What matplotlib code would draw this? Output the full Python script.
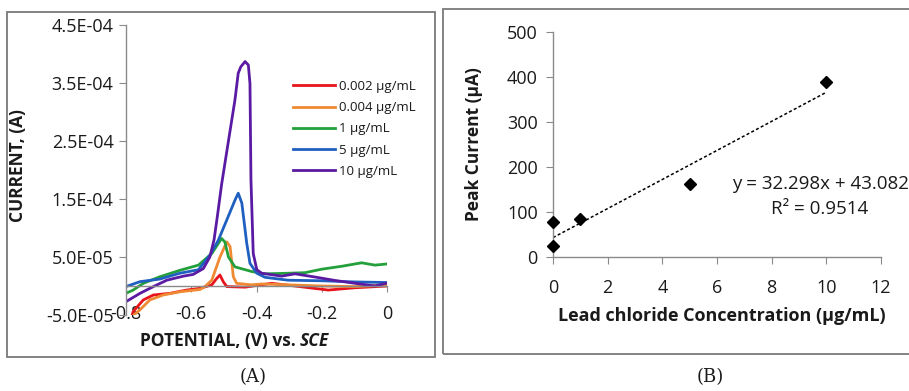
import matplotlib
matplotlib.use("Agg")
import matplotlib.pyplot as plt
import numpy as np
from matplotlib.patches import Rectangle

# ---------------- Panel A data (potential in V, current in µA) ----------------
v_red = [-0.785, -0.778, -0.747, -0.716, -0.665, -0.614, -0.573, -0.537, -0.522, -0.512,
         -0.502, -0.491, -0.435, -0.354, -0.282, -0.180, -0.098, 0.0]
i_red = [-58, -44, -24, -15.5, -12.6, -7, -4, 2, 13, 19, 7.5, -1, -2, 4.6, 0, -7, -3, 0]

v_orange = [-0.788, -0.757, -0.727, -0.686, -0.635, -0.573, -0.558, -0.537, -0.512, -0.491,
            -0.481, -0.471, -0.461, -0.415, -0.384, -0.303, -0.2, -0.098, 0.0]
i_orange = [-56, -41, -24, -15.5, -10, -6, -1, 10, 50, 76, 68, 16, 4.6, 2, 3.5, 2, 0, -1, 2]

v_green = [-0.8, -0.778, -0.747, -0.696, -0.635, -0.578, -0.537, -0.507, -0.497, -0.486,
           -0.466, -0.415, -0.374, -0.303, -0.251, -0.200, -0.139, -0.078, -0.037, 0.0]
i_green = [-12.6, -7, 4.6, 16, 27, 36, 56, 82, 76, 50, 33, 25, 21, 22, 23, 29, 34, 40, 36, 38]

v_blue = [-0.8, -0.757, -0.696, -0.635, -0.578, -0.543, -0.517, -0.491, -0.466, -0.456,
          -0.445, -0.430, -0.420, -0.399, -0.374, -0.303, -0.2, -0.098, 0.0]
i_blue = [-1, 7.5, 12, 22, 28, 53, 79, 114, 148, 160, 143, 74, 39, 22, 15, 10, 9, 7, 6]

v_purple = [-0.8, -0.757, -0.716, -0.675, -0.624, -0.594, -0.563, -0.543, -0.530, -0.520,
            -0.507, -0.486, -0.466, -0.456, -0.448, -0.435, -0.425, -0.420, -0.417, -0.410,
            -0.399, -0.384, -0.323, -0.282, -0.221, -0.159, -0.098, -0.037, 0.0]
i_purple = [-27, -12.6, -1, 10, 17, 20, 30, 50, 80, 120, 175, 250, 321, 367, 378, 387, 381,
            349, 183, 56, 28, 22, 17, 21, 15.5, 9.5, 4.6, 0, 5]

series_labels = ["0.002 µg/mL", "0.004 µg/mL", "1 µg/mL", "5 µg/mL", "10 µg/mL"]
series_colors = ["#e8141c", "#f08a32", "#23a03c", "#1f5fc0", "#5a1aa3"]

a_yticks = [-5e-5, 5e-5, 1.5e-4, 2.5e-4, 3.5e-4, 4.5e-4]
a_yticklabels = ["-5.0E-05", "5.0E-05", "1.5E-04", "2.5E-04", "3.5E-04", "4.5E-04"]
a_xticks = [-0.8, -0.6, -0.4, -0.2, 0]
a_xticklabels = ["-0.8", "-0.6", "-0.4", "-0.2", "0"]

# ---------------- Panel B data ----------------
conc = [0.002, 0.004, 1, 5, 10]
peak_current = [25, 77, 84, 162, 389]
fit_slope = 32.298
fit_intercept = 43.082
b_xticks = [0, 2, 4, 6, 8, 10, 12]
b_yticks = [0, 100, 200, 300, 400, 500]

plt.rcParams['font.family'] = ['Open Sans', 'DejaVu Sans']

W, H = 909, 391
fig = plt.figure(figsize=(W / 100, H / 100), dpi=100)
fig.patch.set_facecolor("white")

def fx(px):
    return px / W

def fy(py):
    return 1 - py / H

gray = "#8a8a8a"
txt = "#1a1a1a"

# Panel frames
fig.add_artist(Rectangle((fx(7), fy(357)), fx(435 - 7), fy(12) - fy(357),
                         transform=fig.transFigure, fill=False, edgecolor="#7a7a7a", lw=1.3))
fig.add_artist(Rectangle((fx(443), fy(354)), fx(915 - 443), fy(9) - fy(354),
                         transform=fig.transFigure, fill=False, edgecolor="#7a7a7a", lw=1.3))

# ---------------- Panel A ----------------
axA = fig.add_axes([fx(126), fy(315), fx(387 - 126), fy(25) - fy(315)])
for v, i, c, lab in zip([v_red, v_orange, v_green, v_blue, v_purple],
                        [i_red, i_orange, i_green, i_blue, i_purple],
                        series_colors, series_labels):
    axA.plot(v, np.array(i) * 1e-6, color=c, lw=2.0, label=lab, clip_on=True,
             solid_joinstyle='round')
axA.set_xlim(-0.8, 0)
axA.set_ylim(-5e-5, 4.5e-4)
axA.set_yticks(a_yticks)
axA.set_yticklabels(a_yticklabels)
axA.set_xticks(a_xticks)
axA.set_xticklabels(a_xticklabels)
axA.spines['top'].set_visible(False)
axA.spines['right'].set_visible(False)
axA.spines['bottom'].set_position(('data', 0))
for s in ['left', 'bottom']:
    axA.spines[s].set_color(gray)
    axA.spines[s].set_linewidth(1.0)
axA.tick_params(axis='y', direction='out', length=5, color=gray, labelsize=13, pad=4,
                labelcolor=txt)
axA.tick_params(axis='x', direction='out', length=4, color=gray, labelsize=13, pad=10,
                labelcolor=txt)
axA.set_ylabel("CURRENT, (A)", fontsize=12.5, fontweight='bold', color=txt)
axA.yaxis.set_label_coords(fx(27 - 126) / fx(261), (315 - 166) / 290)
fig.text(fx(300), fy(341), "POTENTIAL, (V) vs. ", fontsize=12.5, fontweight='bold',
         ha='right', va='center', color=txt)
fig.text(fx(300), fy(341), "SCE", fontsize=12.5, fontweight='bold', style='italic',
         ha='left', va='center', color=txt)
leg = axA.legend(loc='upper left', bbox_to_anchor=((293 - 126) / 261, (315 - 80) / 290),
                 frameon=False, fontsize=9.5, handlelength=3.2, handletextpad=0.3,
                 labelspacing=0.62, borderaxespad=0, borderpad=0)
for t in leg.get_texts():
    t.set_color(txt)
for ln in leg.get_lines():
    ln.set_linewidth(2.0)

# ---------------- Panel B ----------------
axB = fig.add_axes([fx(553), fy(257), fx(881 - 553), fy(32) - fy(257)])
xfit = np.array([0, 10])
axB.plot(xfit, fit_slope * xfit + fit_intercept, color='black', lw=1.1,
         linestyle=(0, (2, 1.5)))
axB.plot(conc, peak_current, linestyle='none', marker='D', markersize=6.5,
         color='black', clip_on=False, zorder=3)
axB.set_xlim(0, 12)
axB.set_ylim(0, 500)
axB.set_xticks(b_xticks)
axB.set_yticks(b_yticks)
axB.spines['top'].set_visible(False)
axB.spines['right'].set_visible(False)
for s in ['left', 'bottom']:
    axB.spines[s].set_color(gray)
    axB.spines[s].set_linewidth(1.0)
axB.tick_params(axis='both', direction='out', length=5, color=gray, labelsize=13,
                labelcolor=txt)
axB.tick_params(axis='x', pad=11)
axB.tick_params(axis='y', pad=6)
axB.set_ylabel("Peak Current (µA)", fontsize=12.5, fontweight='bold', color=txt)
axB.yaxis.set_label_coords((483 - 553) / 328, 0.5)
axB.set_xlabel("Lead chloride Concentration (µg/mL)", fontsize=13, fontweight='bold',
               color=txt)
axB.xaxis.set_label_coords((722 - 553) / 328, -(316 - 257) / 225)
axB.xaxis.label.set_va('center')
axB.text(fx(820), fy(184), "y = 32.298x + 43.082", transform=fig.transFigure,
         fontsize=13.5, ha='center', va='center', color=txt)
axB.text(fx(820), fy(209), "R² = 0.9514", transform=fig.transFigure,
         fontsize=13.5, ha='center', va='center', color=txt)

# Captions
fig.text(fx(253), fy(377), "(A)", fontsize=13, family='DejaVu Serif', ha='center',
         va='center', color=txt)
fig.text(fx(710), fy(377), "(B)", fontsize=13, family='DejaVu Serif', ha='center',
         va='center', color=txt)

fig.savefig("out.png", dpi=100, facecolor="white")
